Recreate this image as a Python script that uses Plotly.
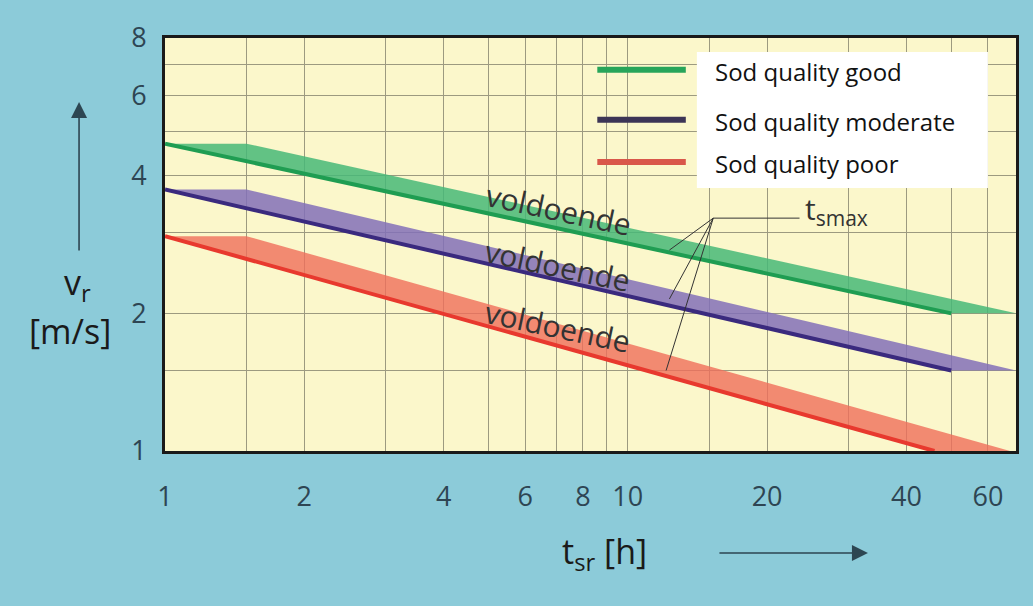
import numpy as np
import plotly.graph_objects as go

# band edges (t in h, v in m/s)
good_low_t = [1, 50, 69]
good_low_v = [4.7, 2.0, 2.0]
good_up_t = [1, 1.5, 69]
good_up_v = [4.7, 4.7, 2.0]

mod_low_t = [1, 50, 69]
mod_low_v = [3.73, 1.5, 1.5]
mod_up_t = [1, 1.5, 69]
mod_up_v = [3.73, 3.73, 1.5]

poor_low_t = [1, 46]
poor_low_v = [2.95, 1.0]
poor_up_t = [1, 1.5, 67]
poor_up_v = [2.95, 2.95, 1.0]

legend_labels = ["Sod quality good", "Sod quality moderate", "Sod quality poor"]
band_label = "voldoende"
voldoende_t = [7.1, 7.05, 7.05]
voldoende_v = [3.37, 2.55, 1.87]

# t_smax leader lines
tsmax_vertex = (15.3, 3.23)
tsmax_end_t = [12.3, 12.3, 12.1]
tsmax_end_v = [2.75, 2.15, 1.5]
tsmax_label_end = 23.5

x_ticks = [1, 1.5, 2, 3, 4, 5, 6, 7, 8, 9, 10, 15, 20, 30, 40, 50, 60]
x_labels = ["1", "", "2", "", "4", "", "6", "", "8", "", "10", "", "20", "", "40", "", "60"]
y_ticks = [1, 1.5, 2, 3, 4, 5, 6, 7, 8]
y_labels = ["1", "", "2", "", "4", "", "6", "", "8"]

line_cols = ["#1f9d52", "#3a2a7e", "#e8392e"]
fill_cols = ["rgba(70,185,120,0.85)", "rgba(130,112,185,0.85)", "rgba(240,110,90,0.8)"]
legend_cols = ["#27a55a", "#3c3556", "#d9574a"]

bands = [
    (good_low_t, good_low_v, good_up_t, good_up_v),
    (mod_low_t, mod_low_v, mod_up_t, mod_up_v),
    (poor_low_t, poor_low_v, poor_up_t, poor_up_v),
]

fig = go.Figure()

for i, (lt, lv, ut, uv) in enumerate(bands):
    fig.add_trace(go.Scatter(
        x=lt + ut[::-1], y=lv + uv[::-1], mode="lines", fill="toself",
        fillcolor=fill_cols[i], line=dict(width=0), hoverinfo="skip", showlegend=False))
    fig.add_trace(go.Scatter(
        x=lt[:2], y=lv[:2], mode="lines",
        line=dict(color=line_cols[i], width=4), showlegend=False))

# leader lines for t_smax
lx, ly = [], []
for t, v in zip(tsmax_end_t, tsmax_end_v):
    lx += [t, tsmax_vertex[0], None]
    ly += [v, tsmax_vertex[1], None]
lx += [tsmax_vertex[0], tsmax_label_end]
ly += [tsmax_vertex[1], tsmax_vertex[1]]
fig.add_trace(go.Scatter(x=lx, y=ly, mode="lines", line=dict(color="#333333", width=1),
                         showlegend=False, hoverinfo="skip"))

annotations = []
for t, v in zip(voldoende_t, voldoende_v):
    annotations.append(dict(x=np.log10(t), y=np.log10(v), xref="x", yref="y", text=band_label,
                            showarrow=False, textangle=12,
                            font=dict(family="Open Sans", size=30, color="#333333")))
annotations.append(dict(x=np.log10(tsmax_label_end), y=np.log10(tsmax_vertex[1]), xref="x", yref="y",
                        text="t<sub>smax</sub>", showarrow=False, xanchor="left", yanchor="middle",
                        xshift=3, yshift=8,
                        font=dict(family="Open Sans", size=30, color="#333333")))

# legend (drawn by hand like the original)
leg_y = [0.918, 0.797, 0.695]
for i, lab in enumerate(legend_labels):
    annotations.append(dict(x=0.644, y=leg_y[i], xref="paper", yref="paper", text=lab,
                            showarrow=False, xanchor="left", yanchor="middle",
                            font=dict(family="Open Sans", size=24, color="#111111")))

# axis titles and arrows
annotations += [
    dict(x=-0.103, y=0.405, xref="paper", yref="paper", text="v<sub>r</sub>", showarrow=False,
         xanchor="center", yanchor="middle",
         font=dict(family="Open Sans", size=34, color="#1a1a1a")),
    dict(x=-0.112, y=0.29, xref="paper", yref="paper", text="[m/s]", showarrow=False,
         xanchor="center", yanchor="middle",
         font=dict(family="Open Sans", size=34, color="#1a1a1a")),
    dict(x=0.517, y=-0.247, xref="paper", yref="paper", text="t<sub>sr</sub> [h]", showarrow=False,
         xanchor="center", yanchor="middle",
         font=dict(family="Open Sans", size=34, color="#1a1a1a")),
    dict(x=-0.101, y=0.845, xref="paper", yref="paper", text="", showarrow=True, ax=0, ay=150,
         arrowhead=2, arrowsize=2, arrowwidth=1.6, arrowcolor="#2d4652"),
    dict(x=0.826, y=-0.247, xref="paper", yref="paper", text="", showarrow=True, ax=-150, ay=0,
         arrowhead=2, arrowsize=2, arrowwidth=1.6, arrowcolor="#2d4652"),
]

shapes = [dict(type="rect", xref="paper", yref="paper", x0=0.625, x1=0.967, y0=0.637, y1=0.966,
               fillcolor="white", line=dict(width=0), layer="above")]
for i in range(3):
    shapes.append(dict(type="line", xref="paper", yref="paper", x0=0.508, x1=0.612,
                       y0=leg_y[i] + 0.005, y1=leg_y[i] + 0.005,
                       line=dict(color=legend_cols[i], width=6), layer="above"))

axis_font = dict(family="Open Sans", size=27, color="#2e4553")
fig.update_layout(
    width=1033, height=606,
    margin=dict(l=165, r=17, t=38, b=155),
    paper_bgcolor="#8ccbd9",
    plot_bgcolor="#fbf7cb",
    showlegend=False,
    annotations=annotations,
    shapes=shapes,
    xaxis=dict(type="log", range=[0, np.log10(69)], tickvals=x_ticks, ticktext=x_labels,
               showgrid=True, gridcolor="#9c9a80", gridwidth=1, zeroline=False,
               showline=True, mirror=True, linecolor="#1a1a1a", linewidth=3,
               ticks="", ticklabelstandoff=20, tickfont=axis_font),
    yaxis=dict(type="log", range=[0, np.log10(8)], tickvals=y_ticks, ticktext=y_labels,
               showgrid=True, gridcolor="#9c9a80", gridwidth=1, zeroline=False,
               showline=True, mirror=True, linecolor="#1a1a1a", linewidth=3,
               ticks="", ticklabelstandoff=10, tickfont=axis_font),
)

fig.write_html("out.html", config={"displayModeBar": False},
               post_script="document.body.style.margin='0';")
